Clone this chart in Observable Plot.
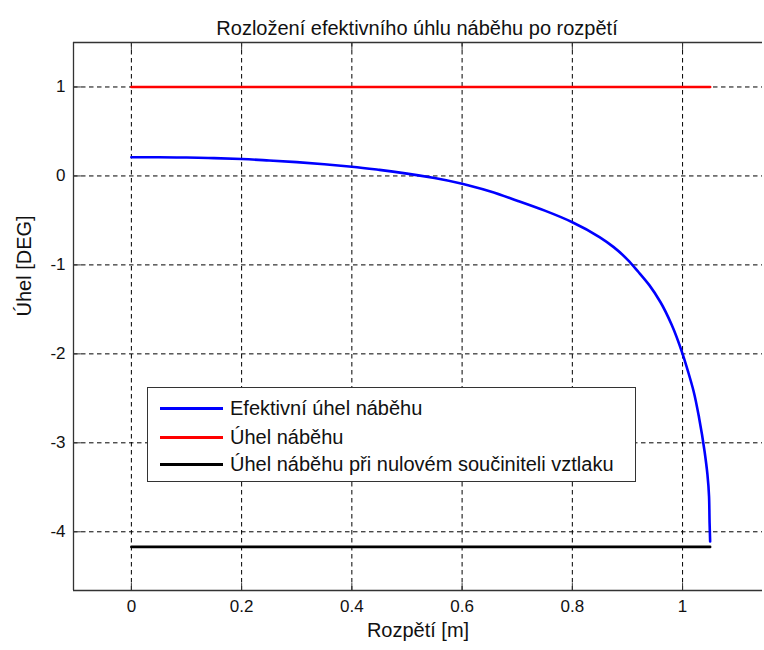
<!DOCTYPE html>
<html>
<head>
<meta charset="utf-8">
<script src="https://cdn.jsdelivr.net/npm/d3@7"></script>
<script src="https://cdn.jsdelivr.net/npm/@observablehq/plot@0.6"></script>
<style>
  html, body { margin: 0; padding: 0; background: #fff; overflow: hidden; }
  #wrap { position: relative; width: 764px; height: 650px; }
  #legend {
    position: absolute; left: 147px; top: 387px; width: 489px; height: 95px;
    border: 1px solid #333; background: #fff; box-sizing: border-box;
    font-family: "Liberation Sans", Arial, sans-serif; font-size: 20px; color: #111;
  }
  .row { position: absolute; left: 12px; height: 24px; display: flex; align-items: center; }
  .sw { width: 63px; height: 3px; margin-right: 7px; }
</style>
</head>
<body>
<div id="wrap"><div id="chart"></div><div id="legend"></div></div>
<script>
// Data
const spanX = [0, 0.2, 0.4, 0.6, 0.8, 1.0, 1.05];
const effX = [0, 0.05, 0.1, 0.15, 0.2, 0.25, 0.3, 0.35, 0.4, 0.45, 0.5, 0.55, 0.6, 0.65, 0.7, 0.75, 0.8, 0.85, 0.875, 0.9, 0.92, 0.94, 0.96, 0.98, 1.0, 1.01, 1.02, 1.03, 1.04, 1.045, 1.048, 1.049, 1.05];
const effY = [0.21, 0.21, 0.207, 0.2, 0.19, 0.174, 0.155, 0.132, 0.104, 0.068, 0.026, -0.024, -0.088, -0.172, -0.278, -0.39, -0.52, -0.69, -0.8, -0.94, -1.08, -1.23, -1.42, -1.67, -2.0, -2.2, -2.42, -2.72, -3.1, -3.35, -3.6, -3.9, -4.11];
const alphaValue = 1.0;      // Úhel náběhu
const alpha0Value = -4.17;   // Úhel náběhu při nulovém součiniteli vztlaku
const xTicks = [0, 0.2, 0.4, 0.6, 0.8, 1];
const yTicks = [-4, -3, -2, -1, 0, 1];
const xDomain = [-0.105, 1.145];
const yDomain = [-4.66, 1.5];

const seriesNames = ["Efektivní úhel náběhu", "Úhel náběhu", "Úhel náběhu při nulovém součiniteli vztlaku"];
const seriesColors = ["#0000ff", "#ff0000", "#000000"];

const eff = effX.map((x, i) => ({x, y: effY[i]}));
const alphaLine = [{x: 0, y: alphaValue}, {x: spanX[spanX.length - 1], y: alphaValue}];
const alpha0Line = [{x: 0, y: alpha0Value}, {x: spanX[spanX.length - 1], y: alpha0Value}];

const font = "'Liberation Sans', Arial, sans-serif";
const axisColor = "#333";
const tickShapeUp = {draw(c, l) { c.moveTo(0, 0); c.lineTo(0, -l); }};

const plot = Plot.plot({
  width: 764,
  height: 650,
  marginLeft: 73,
  marginRight: 2,
  marginTop: 42,
  marginBottom: 60,
  style: {fontFamily: font, color: "#111", background: "#fff"},
  x: {domain: xDomain, ticks: xTicks, label: null},
  y: {domain: yDomain, ticks: yTicks, label: null},
  marks: [
    Plot.gridX(xTicks, {stroke: "#000", strokeOpacity: 1, strokeDasharray: "4.5,3.5"}),
    Plot.gridY(yTicks, {stroke: "#000", strokeOpacity: 1, strokeDasharray: "4.5,3.5"}),
    // inward ticks (MATLAB style)
    Plot.vector(xTicks, {x: d => d, y: () => yDomain[0], length: 7, rotate: 0, anchor: "start", shape: tickShapeUp, stroke: axisColor, strokeWidth: 1}),
    Plot.vector(xTicks, {x: d => d, y: () => yDomain[1], length: 7, rotate: 180, anchor: "start", shape: tickShapeUp, stroke: axisColor, strokeWidth: 1}),
    Plot.vector(yTicks, {y: d => d, x: () => xDomain[0], length: 7, rotate: 90, anchor: "start", shape: tickShapeUp, stroke: axisColor, strokeWidth: 1}),
    // box (left, top, bottom)
    Plot.ruleX([xDomain[0]], {stroke: axisColor, strokeWidth: 1.3}),
    Plot.ruleY([yDomain[0], yDomain[1]], {stroke: axisColor, strokeWidth: 1.3}),
    Plot.axisX({ticks: xTicks, tickSize: 0, tickPadding: 9, fontSize: 17, tickFormat: d => String(d), label: null}),
    Plot.axisY({ticks: yTicks, tickSize: 0, tickPadding: 8, fontSize: 17, tickFormat: d => String(d), label: null}),
    Plot.line(alphaLine, {x: "x", y: "y", stroke: seriesColors[1], strokeWidth: 2.6}),
    Plot.line(alpha0Line, {x: "x", y: "y", stroke: seriesColors[2], strokeWidth: 2.6}),
    Plot.line(eff, {x: "x", y: "y", stroke: seriesColors[0], strokeWidth: 2.6, curve: "monotone-y"}),
    Plot.text(["Rozložení efektivního úhlu náběhu po rozpětí"], {frameAnchor: "top", dy: -21.5, dx: -1, fontSize: 20, fill: "#111"}),
    Plot.text(["Rozpětí [m]"], {frameAnchor: "bottom", dy: 46, fontSize: 20, fill: "#111"}),
    Plot.text(["Úhel [DEG]"], {frameAnchor: "left", rotate: -90, dx: -49, fontSize: 20, fill: "#111"})
  ]
});
document.getElementById("chart").appendChild(plot);

// Legend
const legend = document.getElementById("legend");
const rowTops = [8, 37, 64];
seriesNames.forEach((name, i) => {
  const row = document.createElement("div");
  row.className = "row";
  row.style.top = rowTops[i] + "px";
  const sw = document.createElement("div");
  sw.className = "sw";
  sw.style.background = seriesColors[i];
  const tx = document.createElement("span");
  tx.textContent = name;
  row.appendChild(sw);
  row.appendChild(tx);
  legend.appendChild(row);
});
</script>
</body>
</html>
